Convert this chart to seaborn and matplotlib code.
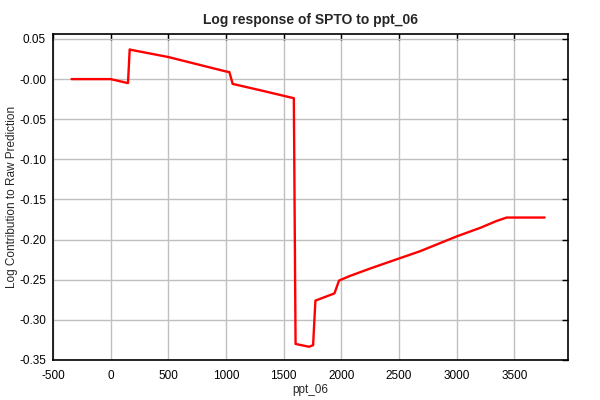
import matplotlib
matplotlib.use("Agg")
import matplotlib.pyplot as plt
import seaborn as sns
import pandas as pd

# data
ppt_06 = [-339, 0, 150, 165, 175, 500, 1000, 1029, 1058, 1300, 1588, 1603,
          1720, 1755, 1775, 1940, 1980, 2070, 2250, 2490, 2680, 3000, 3210,
          3345, 3433, 3762]
log_contrib = [0.0, 0.0, -0.005, 0.037, 0.0365, 0.0275, 0.0095, 0.0088,
               -0.006, -0.014, -0.0238, -0.330, -0.3335, -0.3315, -0.276,
               -0.267, -0.251, -0.2455, -0.236, -0.224, -0.2146, -0.196,
               -0.185, -0.1768, -0.1725, -0.1725]
x_ticks = [-500, 0, 500, 1000, 1500, 2000, 2500, 3000, 3500]
y_ticks = [0.05, 0.0, -0.05, -0.10, -0.15, -0.20, -0.25, -0.30, -0.35]
y_tick_labels = ["0.05", "-0.00", "-0.05", "-0.10", "-0.15", "-0.20",
                 "-0.25", "-0.30", "-0.35"]

sns.set_style("white")
plt.rcParams['font.family'] = ['Liberation Sans', 'DejaVu Sans']

df = pd.DataFrame({"ppt_06": ppt_06, "y": log_contrib})

fig = plt.figure(figsize=(6, 4), dpi=100)
ax = fig.add_axes([53/600, 40/400, (568-53)/600, (360-34)/400])
sns.lineplot(data=df, x="ppt_06", y="y", ax=ax, color="#ff0000",
             linewidth=1.7, sort=False, estimator=None)

ax.set_xlim(-500, 3965)
ax.set_ylim(-0.35, 0.0562)
ax.set_xticks(x_ticks)
ax.set_xticklabels([str(v) for v in x_ticks])
ax.set_yticks(y_ticks)
ax.set_yticklabels(y_tick_labels)
ax.grid(True, color="#c0c0c0", linewidth=1)
ax.set_axisbelow(True)
for s in ax.spines.values():
    s.set_color("black")
    s.set_linewidth(1.2)
ax.tick_params(direction="in", length=4, width=1, labelsize=8.5,
               top=True, right=True, colors="black")
ax.tick_params(axis="x", pad=7)
ax.tick_params(axis="y", pad=5)
ax.set_title("Log response of SPTO to ppt_06", fontsize=10, fontweight="bold",
             pad=7)
ax.set_xlabel("ppt_06", fontsize=8.5, labelpad=2)
ax.set_ylabel("Log Contribution to Raw Prediction", fontsize=8.5, labelpad=1)

fig.savefig("out.png", dpi=100)
